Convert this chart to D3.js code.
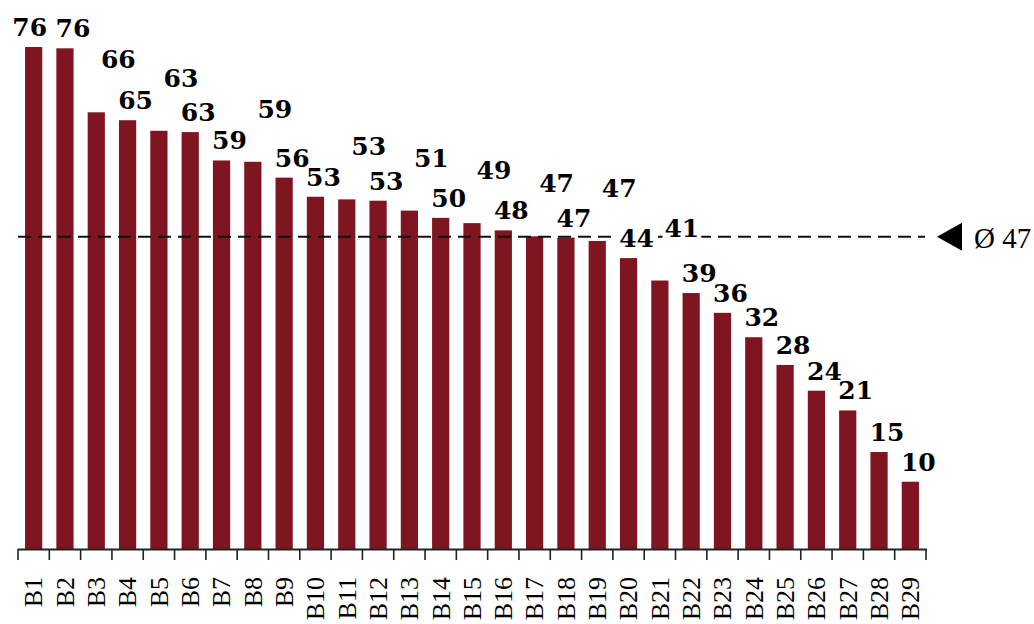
<!doctype html>
<html>
  <head>
    <meta charset="utf-8">
    <style>
      body { margin: 0; background: white; }
      .val { font-family: "DejaVu Serif"; font-weight: bold; font-size: 25px; }
      .cat { font-family: "Liberation Serif"; font-size: 26px; }
      .avg { font-family: "Liberation Serif"; font-size: 29px; }
    </style>
    <script src="https://d3js.org/d3.v7.min.js"></script>
  </head>
  <body>
    <div id="chart"></div>
    <script>
      var categories = ["B1", "B2", "B3", "B4", "B5", "B6", "B7", "B8", "B9", "B10",
                        "B11", "B12", "B13", "B14", "B15", "B16", "B17", "B18", "B19", "B20",
                        "B21", "B22", "B23", "B24", "B25", "B26", "B27", "B28", "B29"];
      var values = [76.1, 75.9, 66.2, 65.0, 63.4, 63.2, 58.9, 58.7, 56.3, 53.4,
                    53.0, 52.8, 51.3, 50.2, 49.4, 48.3, 47.4, 47.2, 46.7, 44.1,
                    40.7, 38.8, 35.8, 32.1, 27.9, 24.0, 21.0, 14.7, 10.2];

      var width = 1034, height = 624;
      var barColor = "#7f1520";
      var avg = d3.mean(values);

      var svg = d3.select("#chart").append("svg")
                  .attr("width", width)
                  .attr("height", height);

      var x = d3.scaleBand()
                .domain(categories)
                .range([18, 926])
                .paddingInner(0.45)
                .paddingOuter(0.225);

      var y = d3.scaleLinear()
                .domain([0, d3.max(values)])
                .range([549, 47]);

      var data = categories.map(function(c, i) { return {cat: c, value: values[i]}; });

      // bars
      svg.selectAll(".bar")
         .data(data)
         .enter().append("rect")
         .attr("class", "bar")
         .attr("x", function(d) { return x(d.cat); })
         .attr("y", function(d) { return y(d.value); })
         .attr("width", x.bandwidth())
         .attr("height", function(d) { return y(0) - y(d.value); })
         .attr("fill", barColor);

      // average line
      var x0 = x.range()[0], x1 = x.range()[1];
      svg.append("line")
         .attr("x1", x0).attr("x2", x1 - 1)
         .attr("y1", y(avg)).attr("y2", y(avg))
         .attr("stroke", "#111")
         .attr("stroke-width", 1.8)
         .attr("stroke-dasharray", "13,7");

      var tipX = x1 + 11;
      svg.append("path")
         .attr("d", d3.line()([[tipX, y(avg)], [tipX + 25, y(avg) - 14], [tipX + 25, y(avg) + 14]]) + "Z")
         .attr("fill", "black");

      svg.append("text")
         .attr("class", "avg")
         .attr("x", tipX + 37)
         .attr("y", y(avg) + 11)
         .text("Ø " + Math.round(avg));

      // x axis: baseline, boundary ticks, rotated labels
      var step = x.step();
      var edges = categories.map(function(c) { return x(c) - step * x.paddingInner() / 2; });
      edges.push(x1);

      svg.append("line")
         .attr("x1", x0).attr("x2", x1 + 1)
         .attr("y1", y(0) + 0.5).attr("y2", y(0) + 0.5)
         .attr("stroke", "#222")
         .attr("stroke-width", 1.8);

      svg.selectAll(".tick")
         .data(edges)
         .enter().append("line")
         .attr("class", "tick")
         .attr("x1", function(d) { return d; }).attr("x2", function(d) { return d; })
         .attr("y1", y(0)).attr("y2", y(0) + 11)
         .attr("stroke", "#222")
         .attr("stroke-width", 1.6);

      svg.selectAll(".cat")
         .data(categories)
         .enter().append("text")
         .attr("class", "cat")
         .attr("text-anchor", "end")
         .attr("transform", function(d) {
           return "translate(" + (x(d) + x.bandwidth() / 2) + ",577) rotate(-90)";
         })
         .attr("dy", "0.34em")
         .text(function(d) { return d; });

      // value labels, placed right to left so they dodge each other
      var fmt = d3.format(".0f");
      var bgLayer = svg.append("g");
      var labelLayer = svg.append("g");
      var placed = [];
      var candidates = [[8, -11], [22, -44], [-4, -11]];
      var lh = 25 * 0.73;

      function hits(b) {
        return placed.some(function(p) {
          return b.x0 < p.x1 - 0.5 && b.x1 > p.x0 + 0.5 && b.y0 < p.y1 - 0.5 && b.y1 > p.y0 + 0.5;
        });
      }

      for (var i = data.length - 1; i >= 0; i--) {
        var d = data[i];
        var t = labelLayer.append("text")
                          .attr("class", "val")
                          .attr("text-anchor", "middle")
                          .text(fmt(d.value));
        var w = t.node().getComputedTextLength();
        var xc = x(d.cat) + x.bandwidth() / 2;
        var box = null;
        for (var k = 0; k < candidates.length; k++) {
          var cx = xc + candidates[k][0], base = y(d.value) + candidates[k][1];
          var b = {x0: cx - w / 2, x1: cx + w / 2, y0: base - lh, y1: base, cx: cx};
          if (b.y0 < 2) continue;
          if (!hits(b)) { box = b; break; }
        }
        if (!box) {
          var cx2 = xc + candidates[0][0], base2 = y(d.value) + candidates[0][1];
          box = {x0: cx2 - w / 2, x1: cx2 + w / 2, y0: base2 - lh, y1: base2, cx: cx2};
        }
        placed.push(box);
        t.attr("x", box.cx).attr("y", box.y1);
        bgLayer.append("rect")
               .attr("x", box.x0 - 2)
               .attr("y", box.y0 - 3)
               .attr("width", box.x1 - box.x0 + 4)
               .attr("height", box.y1 - box.y0 + 6)
               .attr("fill", "white");
      }
    </script>
  </body>
</html>
